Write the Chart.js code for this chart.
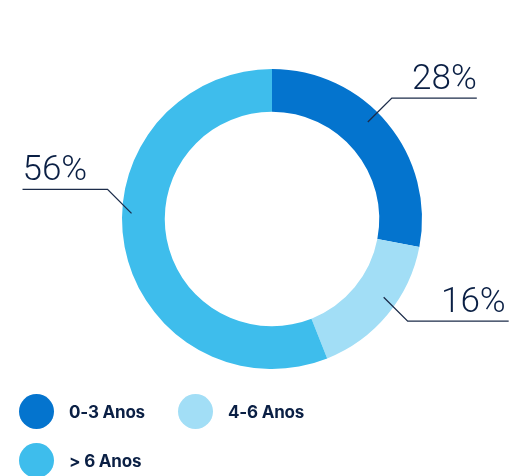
<!DOCTYPE html>
<html>
<head>
<meta charset="utf-8">
<script src="https://cdn.jsdelivr.net/npm/chart.js@4/dist/chart.umd.min.js"></script>
<style>
  html, body { margin: 0; padding: 0; background: #ffffff; }
  #wrap { position: relative; width: 509px; height: 476px; overflow: hidden; }
  #chart { position: absolute; left: 0; top: 0; }
  .lg { position: absolute; display: flex; align-items: center; font: 700 17px Inter, Lato, sans-serif; color: #0a1f44; letter-spacing: -0.2px; }
  .lg i { display: inline-block; width: 35px; height: 35px; border-radius: 50%; margin-right: 15px; }
</style>
</head>
<body>
<div id="wrap">
  <canvas id="chart" width="509" height="476"></canvas>
</div>
<script>
// Age bands and their shares (%)
const categories = ['0-3 Anos', '4-6 Anos', '> 6 Anos'];
const shares = [28, 16, 56];
const valueLabels = ['28%', '16%', '56%'];
const colors = ['#0474CE', '#A2DEF6', '#3EBDEC'];

const INK = '#0a1f44';

// Leader-line callouts: anchored inside each arc, short diagonal, then a horizontal rule with the value above it
const callouts = {
  id: 'callouts',
  afterDatasetsDraw(chart, args, opts) {
    const ctx = chart.ctx;
    const meta = chart.getDatasetMeta(0);
    meta.data.forEach((arc, i) => {
      const p = arc.getProps(['x', 'y', 'startAngle', 'endAngle', 'innerRadius', 'outerRadius'], true);
      const a = p.startAngle + (p.endAngle - p.startAngle) * opts.along[i];
      const r = p.innerRadius + (p.outerRadius - p.innerRadius) * opts.depth[i];
      const sx = p.x + Math.cos(a) * r;
      const sy = p.y + Math.sin(a) * r;
      const dirX = Math.cos(a) >= 0 ? 1 : -1;
      const dirY = Math.sin(a) >= 0 ? 1 : -1;
      const ex = sx + dirX * opts.diag;
      const ey = sy + dirY * opts.diag;
      const fx = ex + dirX * opts.rule[i];

      ctx.save();
      ctx.strokeStyle = '#1c2c4a';
      ctx.lineWidth = 1.3;
      ctx.beginPath();
      ctx.moveTo(sx, sy);
      ctx.lineTo(ex, ey);
      ctx.lineTo(fx, ey);
      ctx.stroke();

      ctx.fillStyle = INK;
      ctx.font = '300 35px Roboto, Lato, sans-serif';
      ctx.textBaseline = 'alphabetic';
      ctx.textAlign = dirX > 0 ? 'right' : 'left';
      ctx.fillText(valueLabels[i], fx - dirX * opts.inset[i], ey - 9);
      ctx.restore();
    });
  }
};

new Chart(document.getElementById('chart'), {
  type: 'doughnut',
  data: {
    labels: categories,
    datasets: [{
      data: shares,
      backgroundColor: colors,
      borderWidth: 0,
      hoverOffset: 0
    }]
  },
  options: {
    responsive: false,
    animation: false,
    cutout: '71.5%',
    layout: { padding: { left: 122, right: 87, top: 69, bottom: 107 } },
    plugins: {
      legend: { display: false },
      tooltip: { enabled: false },
      callouts: {
        along: [0.443, 0.42, 0.565],
        depth: [0.68, 0.68, 0.78],
        diag: 24,
        rule: [85, 101, 85],
        inset: [0, 3, 0]
      }
    }
  },
  plugins: [callouts]
});

// Legend: two per row
const wrap = document.getElementById('wrap');
const legendSpots = [[19, 394], [178, 394], [19, 443]];
categories.forEach((c, i) => {
  const el = document.createElement('div');
  el.className = 'lg';
  el.style.left = legendSpots[i][0] + 'px';
  el.style.top = legendSpots[i][1] + 'px';
  const dot = document.createElement('i');
  dot.style.background = colors[i];
  el.appendChild(dot);
  el.appendChild(document.createTextNode(c));
  wrap.appendChild(el);
});
</script>
</body>
</html>
